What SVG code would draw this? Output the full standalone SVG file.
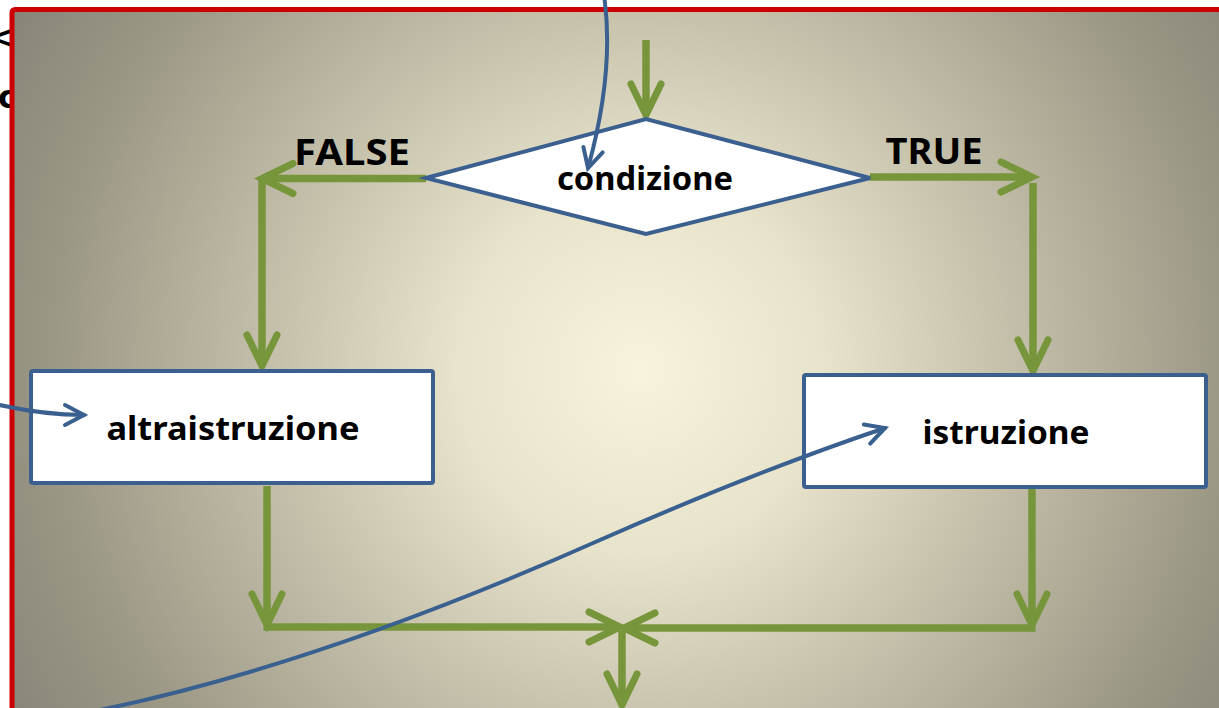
<svg xmlns="http://www.w3.org/2000/svg" width="1219" height="708" viewBox="0 0 1219 708">
<defs>
<radialGradient id="bg" gradientUnits="userSpaceOnUse" cx="640" cy="370" r="730">
<stop offset="0" stop-color="#f8f3dc"/>
<stop offset="0.25" stop-color="#e8e3cb"/>
<stop offset="0.48" stop-color="#c8c3ad"/>
<stop offset="0.8" stop-color="#9c9886"/>
<stop offset="1" stop-color="#878378"/>
</radialGradient>
<marker id="ga" markerUnits="userSpaceOnUse" markerWidth="80" markerHeight="80" viewBox="-40 -40 80 80" refX="0" refY="0" orient="auto">
<path d="M-31,-15 L0,0 L-31,15" fill="none" stroke="#77963b" stroke-width="7" stroke-linecap="round" stroke-linejoin="miter"/>
</marker>
<marker id="ba" markerUnits="userSpaceOnUse" markerWidth="60" markerHeight="60" viewBox="-30 -30 60 60" refX="0" refY="0" orient="auto">
<path d="M-19,-10 L0,0 L-19,10" fill="none" stroke="#3a6090" stroke-width="4" stroke-linecap="round"/>
</marker>
</defs>
<style>
.lbl{font-family:"Comic Sans MS","Noto Sans","DejaVu Sans",sans-serif;font-weight:bold;fill:#000;}
.node{fill:#fff;stroke:#3b5f8e;stroke-width:4;}
.g{fill:none;stroke:#77963b;stroke-width:7.5;}
.b{fill:none;stroke:#3a6090;stroke-width:4;stroke-linecap:round;}
.frag{font-family:"DejaVu Sans",sans-serif;font-size:32px;font-weight:bold;fill:#000;}
</style>
<rect x="0" y="0" width="1219" height="708" fill="#fff"/>
<text class="frag" x="-12" y="48">&lt;</text>
<text class="frag" x="-2" y="108">c</text>
<rect id="frame" x="12" y="9.5" width="1215" height="710" rx="3" fill="url(#bg)" stroke="#cc0000" stroke-width="5"/>

<g id="connectors">
<line class="g" x1="646" y1="40" x2="646" y2="115" marker-end="url(#ga)"/>
<line class="g" x1="426" y1="178.5" x2="262" y2="178.5" marker-end="url(#ga)"/>
<line class="g" x1="262" y1="178" x2="262" y2="366" marker-end="url(#ga)"/>
<line class="g" x1="870" y1="177" x2="1032" y2="177" marker-end="url(#ga)"/>
<line class="g" x1="1033" y1="183" x2="1033" y2="371" marker-end="url(#ga)"/>
<line class="g" x1="267" y1="486" x2="267" y2="625" marker-end="url(#ga)"/>
<line class="g" x1="263.5" y1="627" x2="620" y2="627" marker-end="url(#ga)"/>
<line class="g" x1="1032" y1="488" x2="1032" y2="625" marker-end="url(#ga)"/>
<line class="g" x1="1035.5" y1="628" x2="624" y2="628" marker-end="url(#ga)"/>
<line class="g" x1="622" y1="631" x2="622" y2="705" marker-end="url(#ga)"/>
</g>

<g id="n-condizione">
<polygon class="node" points="426,178 646,119 870,178 646,234"/>
<text class="lbl" x="645" y="190" font-size="33" text-anchor="middle" textLength="176" lengthAdjust="spacingAndGlyphs">condizione</text>
</g>
<g id="n-altraistruzione">
<rect class="node" x="31" y="371" width="402" height="112" rx="2"/>
<text class="lbl" x="233" y="440" font-size="33" text-anchor="middle" textLength="253" lengthAdjust="spacingAndGlyphs">altraistruzione</text>
</g>
<g id="n-istruzione">
<rect class="node" x="804" y="375" width="402" height="112" rx="2"/>
<text class="lbl" x="1006" y="444" font-size="33" text-anchor="middle" textLength="167" lengthAdjust="spacingAndGlyphs">istruzione</text>
</g>
<g id="labels">
<text class="lbl" x="352" y="165" font-size="35" text-anchor="middle" textLength="116" lengthAdjust="spacingAndGlyphs">FALSE</text>
<text class="lbl" x="934" y="164" font-size="35" text-anchor="middle" textLength="97" lengthAdjust="spacingAndGlyphs">TRUE</text>
</g>

<g id="annotations">
<path class="b" d="M604,-5 C612,50 604,110 588,168" marker-end="url(#ba)"/>
<path class="b" d="M-5,404 C30,412 55,415 84,415" marker-end="url(#ba)"/>
<path class="b" d="M90,712 C250,680 420,620 600,540 C700,496 790,460 885,428" marker-end="url(#ba)"/>
</g>
</svg>
